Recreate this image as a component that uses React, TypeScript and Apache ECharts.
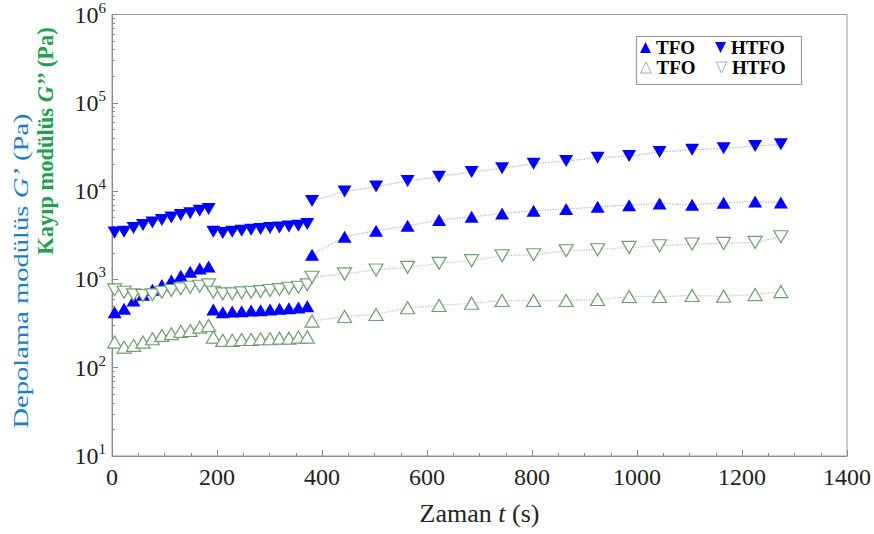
import React, { useEffect, useRef } from "react";
import * as echarts from "echarts";

// Time (s)
const time = [
  5, 23, 41, 59, 77, 95, 113, 131, 149, 167, 184,
  193, 211, 229, 247, 265, 283, 301, 319, 337, 355, 372,
  381, 443, 503, 563, 623, 685, 743, 803, 865, 925, 985, 1043, 1105, 1165, 1225, 1274,
];
// segment start indices (breaks in the measurement)
const segmentStarts = [0, 11, 22];

// Storage modulus G' (Pa)
const gPrimeTFO = [
  425, 465, 575, 670, 765, 865, 970, 1100, 1220, 1330, 1400,
  455, 425, 433, 436, 444, 448, 456, 464, 472, 481, 497,
  1905, 3040, 3560, 4050, 4700, 5120, 5570, 5980, 6250, 6630, 6930, 7230, 6990, 7360, 7620, 7410,
];
const gPrimeHTFO = [
  3400, 3465, 3810, 4120, 4410, 4700, 5020, 5350, 5630, 5980, 6250,
  3465, 3350, 3465, 3556, 3650, 3715, 3810, 3870, 3975, 4050, 4230,
  7740, 9870, 11240, 13030, 14580, 16470, 18130, 20430, 21920, 23890, 24970, 27700, 29400, 30500, 32370, 33840,
];
// Loss modulus G'' (Pa)
const gDoublePrimeTFO = [
  195, 171, 179, 195, 213, 232, 243, 258, 264, 288, 301,
  222, 204, 204, 209, 209, 213, 213, 216, 216, 222, 222,
  337, 380, 401, 477, 506, 537, 576, 576, 576, 591, 640, 640, 656, 645, 673, 728,
];
const gDoublePrimeHTFO = [
  761, 715, 668, 656, 668, 715, 748, 781, 814, 836, 867,
  715, 686, 686, 704, 715, 728, 748, 767, 794, 814, 867,
  1056, 1154, 1280, 1370, 1520, 1630, 1856, 1905, 2114, 2170, 2303, 2408, 2516, 2555, 2624, 3041,
];

const seriesNames = ["TFO G′", "HTFO G′", "TFO G″", "HTFO G″"];
const legendLabels = ["TFO", "HTFO", "TFO", "HTFO"];

const SERIF = "'Liberation Serif', 'Times New Roman', serif";
const BLUE = "#0000ff";
const GREEN = "#6f9f6f";
const UP_ICON = "path://M5,0L10,10L0,10Z";
const DOWN_ICON = "path://M0,0L10,0L5,10Z";

function pointData(vals: number[]) {
  return vals.map((v, i) => [time[i], v]);
}
function lineData(vals: number[]) {
  const out: any[] = [];
  vals.forEach((v, i) => {
    if (i > 0 && segmentStarts.includes(i)) out.push([(time[i - 1] + time[i]) / 2, null]);
    out.push([time[i], v]);
  });
  return out;
}

export default function App() {
  const ref = useRef<HTMLDivElement>(null);
  useEffect(() => {
    if (!ref.current) return;
    const chart = echarts.init(ref.current, undefined, { renderer: "svg" });
    const datasets = [gPrimeTFO, gPrimeHTFO, gDoublePrimeTFO, gDoublePrimeHTFO];
    const filled = [true, true, false, false];
    const down = [false, true, false, true];

    const lineSeries = datasets.map((d, k) => ({
      type: "line",
      name: "line" + k,
      data: lineData(d),
      showSymbol: false,
      symbol: "none",
      connectNulls: false,
      silent: true,
      z: 1,
      lineStyle: {
        type: "dotted",
        width: 1.3,
        color: filled[k] ? "#b8b8d8" : "#b8ccb8",
      },
    }));
    const scatterSeries = datasets.map((d, k) => ({
      type: "scatter",
      name: seriesNames[k],
      data: pointData(d),
      symbol: "triangle",
      symbolSize: [14, 12],
      symbolRotate: down[k] ? 180 : 0,
      z: 3,
      itemStyle: filled[k]
        ? { color: BLUE, opacity: 1 }
        : { color: "#ffffff", borderColor: GREEN, borderWidth: 1.2, opacity: 1 },
    }));

    const legendCommon = {
      orient: "horizontal",
      itemWidth: 11,
      itemHeight: 11,
      itemGap: 20,
      padding: 0,
      symbolRotate: 0,
      textStyle: { fontFamily: SERIF, fontWeight: "bold", fontSize: 19, color: "#000" },
      formatter: (name: string) => legendLabels[seriesNames.indexOf(name)],
    };
    const openLegendStyle = { color: "#fff", borderColor: "#aaaaaa", borderWidth: 1, opacity: 1 };

    chart.setOption({
      animation: false,
      backgroundColor: "#fff",
      grid: {
        left: 112,
        right: 16,
        top: 13,
        bottom: 78,
        show: true,
        borderColor: "#9a9a9a",
        borderWidth: 1,
      },
      legend: [
        {
          ...legendCommon,
          left: 640,
          top: 38,
          data: [
            { name: seriesNames[0], icon: UP_ICON, itemStyle: { color: BLUE, opacity: 1 } },
            { name: seriesNames[1], icon: DOWN_ICON, itemStyle: { color: BLUE, opacity: 1 } },
          ],
        },
        {
          ...legendCommon,
          left: 640,
          top: 58,
          data: [
            { name: seriesNames[2], icon: UP_ICON, itemStyle: openLegendStyle },
            { name: seriesNames[3], icon: DOWN_ICON, itemStyle: openLegendStyle },
          ],
        },
      ],
      graphic: [
        {
          type: "rect",
          left: 634,
          top: 34,
          shape: { width: 165, height: 48 },
          style: { fill: "none", stroke: "#999", lineWidth: 1.2 },
          z: 10,
        },
        {
          type: "text",
          x: 21,
          y: 271,
          rotation: Math.PI / 2,
          scaleX: 1.3,
          style: {
            text: "{a|Depolama modülüs }{i|G’}{a| (Pa)}",
            align: "center",
            verticalAlign: "middle",
            rich: {
              a: { fontFamily: SERIF, fontSize: 22, fill: "#1e7ec8" },
              i: { fontFamily: SERIF, fontStyle: "italic", fontSize: 22, fill: "#1e7ec8" },
            },
          },
        },
        {
          type: "text",
          x: 45,
          y: 141,
          rotation: Math.PI / 2,
          style: {
            text: "{a|Kayıp modülüs }{i|G’’}{a| (Pa)}",
            align: "center",
            verticalAlign: "middle",
            rich: {
              a: { fontFamily: SERIF, fontSize: 22.5, fontWeight: "bold", fill: "#22a050" },
              i: { fontFamily: SERIF, fontStyle: "italic", fontWeight: "bold", fontSize: 22.5, fill: "#22a050" },
            },
          },
        },
      ],
      xAxis: {
        type: "value",
        min: 0,
        max: 1400,
        interval: 200,
        name: "{a|Zaman }{i|t}{a| (s)}",
        nameLocation: "middle",
        nameGap: 44,
        nameTextStyle: {
          rich: {
            a: { fontFamily: SERIF, fontSize: 26, color: "#222" },
            i: { fontFamily: SERIF, fontSize: 26, fontStyle: "italic", color: "#222" },
          },
        },
        axisLine: { show: true, lineStyle: { color: "#8a8a8a" } },
        axisTick: { show: true, inside: true, length: 6, lineStyle: { color: "#8a8a8a" } },
        minorTick: { show: true, splitNumber: 4, length: 3, lineStyle: { color: "#8a8a8a" } },
        splitLine: { show: false },
        axisLabel: {
          fontFamily: SERIF,
          fontSize: 24,
          color: "#222",
          margin: 9,
          formatter: (v: number) => String(v),
        },
      },
      yAxis: {
        type: "log",
        logBase: 10,
        min: 10,
        max: 1000000,
        axisLine: { show: true, lineStyle: { color: "#8a8a8a" } },
        axisTick: { show: true, inside: true, length: 6, lineStyle: { color: "#8a8a8a" } },
        minorTick: { show: true, splitNumber: 9, length: 3, lineStyle: { color: "#8a8a8a" } },
        splitLine: { show: false },
        axisLabel: {
          margin: 6,
          formatter: (v: number) => "{b|10}{s|" + Math.round(Math.log10(v)) + "}",
          rich: {
            b: { fontFamily: SERIF, fontSize: 24, color: "#222" },
            s: { fontFamily: SERIF, fontSize: 15, color: "#222", padding: [0, 0, 14, 0] },
          },
        },
      },
      series: [...lineSeries, ...scatterSeries],
    });
    return () => chart.dispose();
  }, []);
  return (
    <div
      ref={ref}
      style={{ position: "absolute", left: 0, top: 0, width: 874, height: 534 }}
    />
  );
}
